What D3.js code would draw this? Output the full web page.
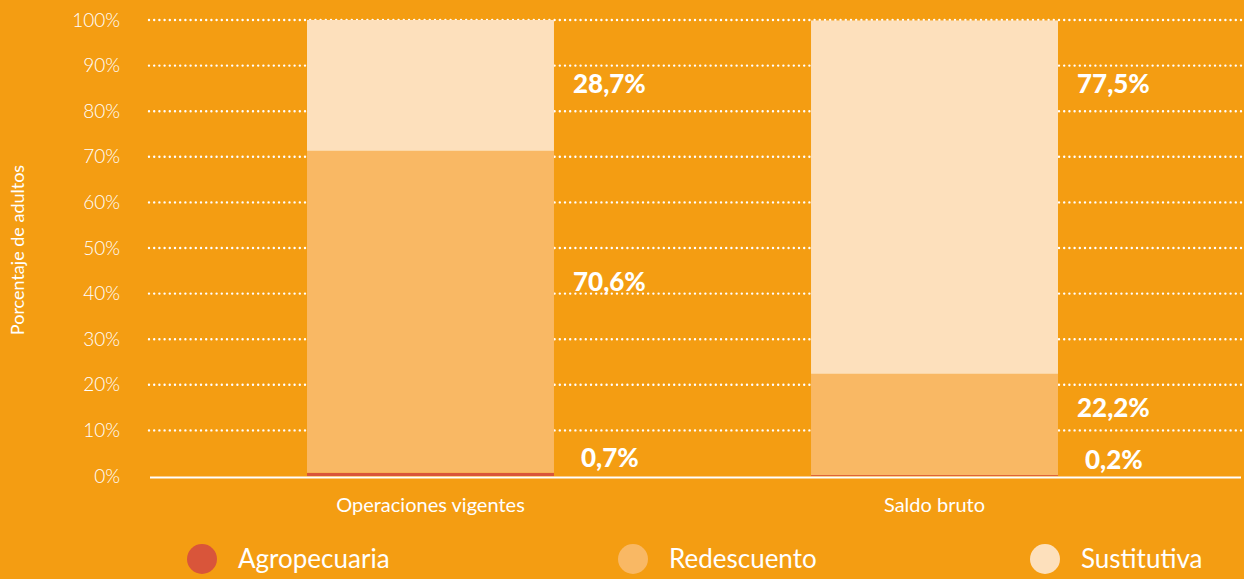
<!DOCTYPE html>
<html>
<head>
<meta charset="utf-8">
<script src="https://cdn.jsdelivr.net/npm/d3@7"></script>
<style>
  html, body { margin: 0; padding: 0; background: #F49D12; }
  svg { display: block; }
  text { font-family: Lato, "Open Sans", sans-serif; fill: #fff; font-weight: 400; }
</style>
</head>
<body>
<svg id="chart" width="1244" height="579"></svg>
<script>
// Categories and series shares (%)
const categories = ["Operaciones vigentes", "Saldo bruto"];
const seriesNames = ["Agropecuaria", "Redescuento", "Sustitutiva"];
const agropecuaria = [0.7, 0.2];
const redescuento = [70.6, 22.2];
const sustitutiva = [28.7, 77.5];
const tickValues = [0, 10, 20, 30, 40, 50, 60, 70, 80, 90, 100];

const colors = ["#D9553A", "#F9B864", "#FDE0BC"];

const svg = d3.select("#chart");

const rows = categories.map((c, i) => ({
  cat: c,
  Agropecuaria: agropecuaria[i],
  Redescuento: redescuento[i],
  Sustitutiva: sustitutiva[i]
}));

const stacked = d3.stack().keys(seriesNames)(rows);

const y = d3.scaleLinear().domain([0, 100]).range([476, 20]);
const x = d3.scaleBand().domain(categories).range([55, 1310]).paddingInner(0.51).paddingOuter(0.5);

// y tick labels
svg.append("g").selectAll("text").data(tickValues).join("text")
  .attr("x", 120).attr("y", d => y(d)).attr("dy", "0.35em")
  .attr("text-anchor", "end").attr("font-size", 19)
  .style("font-weight", 300)
  .text(d => d + "%");

// dotted gridlines (0 is drawn as the solid baseline)
svg.append("g").selectAll("line").data(tickValues.filter(d => d > 0)).join("line")
  .attr("x1", 149).attr("x2", 1242)
  .attr("y1", d => y(d)).attr("y2", d => y(d))
  .attr("stroke", "#fff").attr("stroke-width", 2.4)
  .attr("stroke-linecap", "round").attr("stroke-dasharray", "0,5.2");

// stacked bars
svg.append("g").selectAll("g").data(stacked).join("g")
  .attr("fill", (d, i) => colors[i])
  .selectAll("rect").data(d => d).join("rect")
  .attr("x", d => x(d.data.cat))
  .attr("width", x.bandwidth())
  .attr("y", d => y(d[1]))
  .attr("height", d => y(d[0]) - y(d[1]));

// baseline
svg.append("line")
  .attr("x1", 150).attr("x2", 1241).attr("y1", 477.5).attr("y2", 477.5)
  .attr("stroke", "#fff").attr("stroke-width", 2.2);

// value labels to the right of each bar; vertical anchors in axis units
const labelAt = [[4, 42.5, 86], [3.5, 15, 86]];
const valueFmt = v => d3.format(".1f")(v).replace(".", ",") + "%";
const labels = [];
stacked.forEach((s, si) => s.forEach((d, ci) => {
  labels.push({ v: d.data[seriesNames[si]], cat: d.data.cat, at: labelAt[ci][si], si });
}));
svg.append("g").selectAll("text").data(labels).join("text")
  .attr("x", d => x(d.cat) + x.bandwidth() + (d.si === 0 ? 27 : 19))
  .attr("y", d => y(d.at)).attr("dy", "0.35em")
  .attr("font-size", 26).style("font-weight", 900)
  .text(d => valueFmt(d.v));

// category labels
svg.append("g").selectAll("text").data(categories).join("text")
  .attr("x", d => x(d) + x.bandwidth() / 2).attr("y", 505).attr("dy", "0.35em")
  .attr("text-anchor", "middle").attr("font-size", 20)
  .text(d => d);

// y axis title
svg.append("text")
  .attr("transform", "translate(24,250) rotate(-90)")
  .attr("text-anchor", "middle").attr("font-size", 18)
  .text("Porcentaje de adultos");

// legend
const legendX = [202, 633, 1045];
const lg = svg.append("g").selectAll("g").data(seriesNames).join("g")
  .attr("transform", (d, i) => `translate(${legendX[i]},559)`);
lg.append("circle").attr("r", 15).attr("fill", (d, i) => colors[i]);
lg.append("text").attr("x", 36).attr("dy", "0.35em").attr("font-size", 26).text(d => d);
</script>
</body>
</html>
